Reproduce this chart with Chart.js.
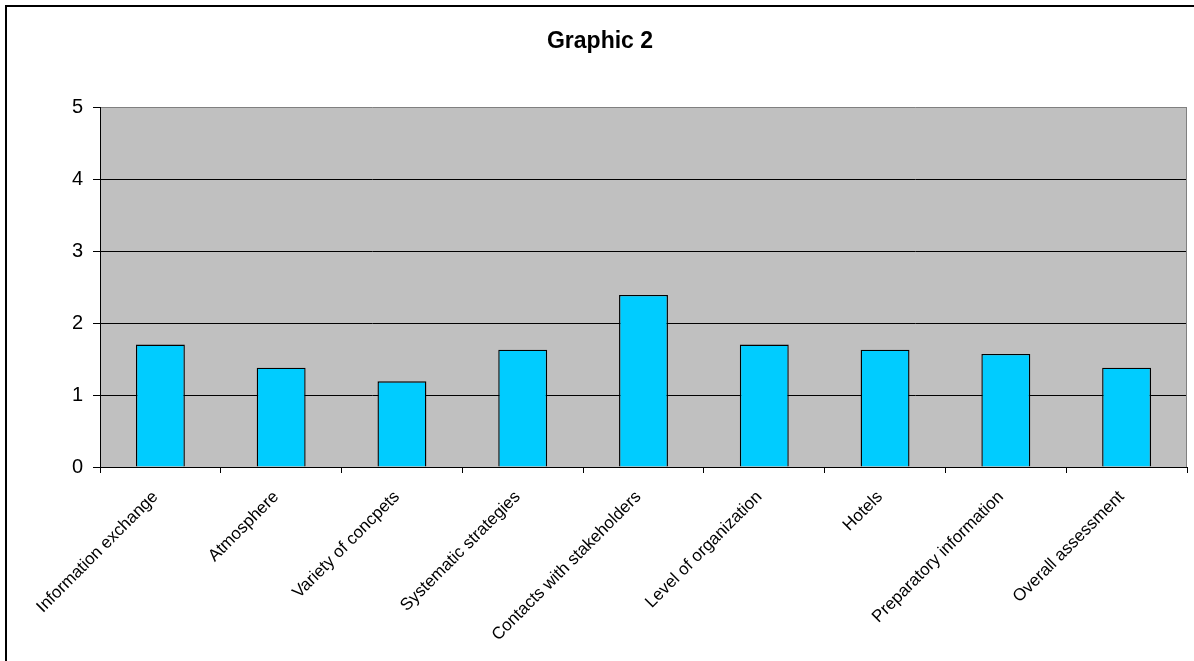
<!DOCTYPE html>
<html>
<head>
<meta charset="utf-8">
<title>Graphic 2</title>
<script src="https://cdn.jsdelivr.net/npm/chart.js@4"></script>
<style>
  html, body { margin: 0; padding: 0; background: #fff; overflow: hidden; }
  #frame {
    position: absolute; left: 5px; top: 5px;
    width: 1300px; height: 800px;
    border: 2px solid #000;
  }
  #wrap { position: absolute; left: 0; top: 0; width: 1194px; height: 661px; }
</style>
</head>
<body>
<div id="frame"></div>
<div id="wrap"><canvas id="barChart"></canvas></div>
<script>
// data
const chartTitle = "Graphic 2";
const categories = [
  "Information exchange",
  "Atmosphere",
  "Variety of concpets",
  "Systematic strategies",
  "Contacts with stakeholders",
  "Level of organization",
  "Hotels",
  "Preparatory information",
  "Overall assessment"
];
const scores = [1.70, 1.38, 1.19, 1.63, 2.39, 1.70, 1.63, 1.57, 1.38];
const yTicks = [0, 1, 2, 3, 4, 5];

const FONT = "'Liberation Sans', Arial, sans-serif";

// grey plot area, grey right border and the title
const plotDecor = {
  id: "plotDecor",
  beforeDraw(chart) {
    const { ctx, chartArea: a } = chart;
    ctx.save();
    ctx.fillStyle = "#C0C0C0";
    ctx.fillRect(a.left, a.top, a.right - a.left, a.bottom - a.top);
    ctx.restore();
  },
  afterDraw(chart) {
    const { ctx, chartArea: a } = chart;
    ctx.save();
    ctx.strokeStyle = "#808080";
    ctx.lineWidth = 1;
    ctx.beginPath();
    ctx.moveTo(a.right - 0.5, a.top);
    ctx.lineTo(a.right - 0.5, a.bottom);
    ctx.stroke();
    ctx.fillStyle = "#000";
    ctx.font = "bold 23px " + FONT;
    ctx.textAlign = "center";
    ctx.textBaseline = "middle";
    ctx.fillText(chartTitle, 600, 42);
    ctx.restore();
  }
};

const ctx = document.getElementById("barChart").getContext("2d");
window.barChartInstance = new Chart(ctx, {
  type: "bar",
  data: {
    labels: categories,
    datasets: [{
      label: chartTitle,
      data: scores,
      backgroundColor: "#00CCFF",
      borderColor: "#000",
      borderWidth: 1.4,
      barPercentage: 0.405,
      categoryPercentage: 1
    }]
  },
  options: {
    responsive: true,
    maintainAspectRatio: false,
    animation: false,
    layout: { padding: { left: 0, right: 7, top: 107, bottom: 0 } },
    plugins: {
      legend: { display: false },
      title: { display: false },
      tooltip: { enabled: false }
    },
    scales: {
      x: {
        afterFit: scale => { scale.height = 194; },
        grid: {
          offset: true,
          drawOnChartArea: false,
          color: "#000",
          tickLength: 6
        },
        border: { color: "#000", width: 1 },
        ticks: {
          autoSkip: false,
          minRotation: 45,
          maxRotation: 45,
          padding: 14,
          labelOffset: -5,
          color: "#000",
          font: { family: FONT, size: 17 }
        }
      },
      y: {
        min: 0,
        max: 5,
        afterFit: scale => { scale.width = 100; },
        afterBuildTicks: scale => { scale.ticks = yTicks.map(v => ({ value: v })); },
        grid: {
          color: c => (c.tick && c.tick.value === 5 ? "#808080" : "#000"),
          tickColor: "#000",
          tickLength: 7
        },
        border: { color: "#000", width: 1 },
        ticks: {
          padding: 10,
          color: "#000",
          font: { family: FONT, size: 20 }
        }
      }
    }
  },
  plugins: [plotDecor]
});
</script>
</body>
</html>
